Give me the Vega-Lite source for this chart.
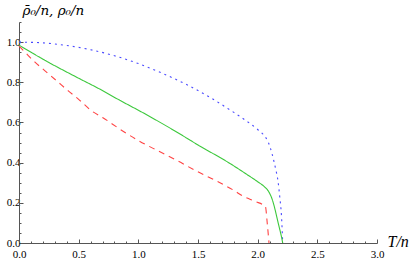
{
  "$schema": "https://vega.github.io/schema/vega-lite/v6.json",
  "width": 358,
  "height": 221,
  "autosize": "none",
  "padding": {"left": 19, "top": 22, "right": 38, "bottom": 15},
  "background": "white",
  "config": {"view": {"stroke": null}, "font": "Liberation Serif"},
  "data": {"values": [
    {"s": "blue", "T": 0.0, "v": 1.0},
    {"s": "blue", "T": 0.2, "v": 0.996},
    {"s": "blue", "T": 0.4, "v": 0.983},
    {"s": "blue", "T": 0.6, "v": 0.962},
    {"s": "blue", "T": 0.8, "v": 0.932},
    {"s": "blue", "T": 1.0, "v": 0.893},
    {"s": "blue", "T": 1.2, "v": 0.845},
    {"s": "blue", "T": 1.4, "v": 0.79},
    {"s": "blue", "T": 1.6, "v": 0.725},
    {"s": "blue", "T": 1.8, "v": 0.65},
    {"s": "blue", "T": 1.9, "v": 0.61},
    {"s": "blue", "T": 2.0, "v": 0.565},
    {"s": "blue", "T": 2.05, "v": 0.538},
    {"s": "blue", "T": 2.09, "v": 0.5},
    {"s": "blue", "T": 2.12, "v": 0.445},
    {"s": "blue", "T": 2.15, "v": 0.37},
    {"s": "blue", "T": 2.17, "v": 0.31},
    {"s": "blue", "T": 2.185, "v": 0.23},
    {"s": "blue", "T": 2.2, "v": 0.13},
    {"s": "blue", "T": 2.21, "v": 0.0},
    {"s": "green", "T": 0.0, "v": 0.985},
    {"s": "green", "T": 0.2, "v": 0.915},
    {"s": "green", "T": 0.5, "v": 0.82},
    {"s": "green", "T": 0.68, "v": 0.765},
    {"s": "green", "T": 0.83, "v": 0.715},
    {"s": "green", "T": 1.04, "v": 0.648},
    {"s": "green", "T": 1.3, "v": 0.56},
    {"s": "green", "T": 1.5, "v": 0.488},
    {"s": "green", "T": 1.77, "v": 0.395},
    {"s": "green", "T": 1.9, "v": 0.345},
    {"s": "green", "T": 2.0, "v": 0.305},
    {"s": "green", "T": 2.06, "v": 0.278},
    {"s": "green", "T": 2.09, "v": 0.258},
    {"s": "green", "T": 2.12, "v": 0.22},
    {"s": "green", "T": 2.14, "v": 0.18},
    {"s": "green", "T": 2.16, "v": 0.13},
    {"s": "green", "T": 2.18, "v": 0.08},
    {"s": "green", "T": 2.2, "v": 0.03},
    {"s": "green", "T": 2.21, "v": 0.0},
    {"s": "red", "T": 0.0, "v": 0.98},
    {"s": "red", "T": 0.05, "v": 0.95},
    {"s": "red", "T": 0.134, "v": 0.9},
    {"s": "red", "T": 0.218, "v": 0.857},
    {"s": "red", "T": 0.316, "v": 0.807},
    {"s": "red", "T": 0.413, "v": 0.757},
    {"s": "red", "T": 0.5, "v": 0.715},
    {"s": "red", "T": 0.61, "v": 0.657},
    {"s": "red", "T": 0.7, "v": 0.625},
    {"s": "red", "T": 0.85, "v": 0.565},
    {"s": "red", "T": 1.0, "v": 0.51},
    {"s": "red", "T": 1.17, "v": 0.457},
    {"s": "red", "T": 1.335, "v": 0.407},
    {"s": "red", "T": 1.49, "v": 0.357},
    {"s": "red", "T": 1.66, "v": 0.307},
    {"s": "red", "T": 1.8, "v": 0.262},
    {"s": "red", "T": 1.88, "v": 0.232},
    {"s": "red", "T": 1.98, "v": 0.207},
    {"s": "red", "T": 2.065, "v": 0.18},
    {"s": "red", "T": 2.08, "v": 0.1},
    {"s": "red", "T": 2.095, "v": 0.0}
  ]},
  "resolve": {"axis": {"x": "independent", "y": "independent"}},
  "layer": [
    {
      "mark": {"type": "line", "opacity": 0},
      "encoding": {
        "x": {"field": "T", "type": "quantitative", "scale": {"domain": [0, 3], "nice": false},
          "axis": {"orient": "bottom", "values": [0.1,0.2,0.3,0.4,0.6,0.7,0.8,0.9,1.1,1.2,1.3,1.4,1.6,1.7,1.8,1.9,2.1,2.2,2.3,2.4,2.6,2.7,2.8,2.9], "labels": false, "domain": false, "grid": false, "title": null, "tickSize": -2, "tickColor": "#555"}},
        "y": {"field": "v", "type": "quantitative", "scale": {"domain": [0, 1.1], "nice": false},
          "axis": {"orient": "left", "values": [0.05,0.1,0.15,0.25,0.3,0.35,0.45,0.5,0.55,0.65,0.7,0.75,0.85,0.9,0.95,1.05,1.1], "labels": false, "domain": false, "grid": false, "title": null, "tickSize": -2, "tickColor": "#555"}},
        "detail": {"field": "s"}
      }
    },
    {
      "mark": {"type": "line", "strokeWidth": 1.1, "interpolate": "monotone"},
      "encoding": {
        "x": {"field": "T", "type": "quantitative", "scale": {"domain": [0, 3], "nice": false},
          "axis": {"orient": "bottom", "values": [0, 0.5, 1, 1.5, 2, 2.5, 3], "format": ".1f", "grid": false, "tickSize": -4, "tickColor": "#555", "domainColor": "#555", "labelFont": "Liberation Serif", "labelFontSize": 11, "labelColor": "black", "labelPadding": 9, "labelFlush": false,
            "title": "T/n", "titleFont": "Liberation Serif", "titleFontStyle": "italic", "titleFontWeight": "normal", "titleFontSize": 16, "titleColor": "black", "titleAngle": 0, "titleAlign": "left", "titleBaseline": "alphabetic", "titleX": 368, "titleY": 3}},
        "y": {"field": "v", "type": "quantitative", "scale": {"domain": [0, 1.1], "nice": false},
          "axis": {"orient": "left", "values": [0, 0.2, 0.4, 0.6, 0.8, 1.0], "format": ".1f", "grid": false, "tickSize": -4, "tickColor": "#555", "domainColor": "#555", "labelFont": "Liberation Serif", "labelFontSize": 11, "labelColor": "black", "labelPadding": 3, "labelFlush": false,
            "title": "ρ̄₀/n, ρ₀/n", "titleFont": "DejaVu Serif", "titleFontStyle": "italic", "titleFontWeight": "normal", "titleFontSize": 13.5, "titleColor": "black", "titleAngle": 0, "titleAlign": "left", "titleBaseline": "alphabetic", "titleX": 3, "titleY": -8}},
        "color": {"field": "s", "type": "nominal", "legend": null, "scale": {"domain": ["blue", "green", "red"], "range": ["#4a4aff", "#3cc83c", "#ff4444"]}},
        "strokeDash": {"field": "s", "type": "nominal", "legend": null, "scale": {"domain": ["blue", "green", "red"], "range": [[2, 4], [1, 0], [6, 5]]}}
      }
    }
  ]
}
